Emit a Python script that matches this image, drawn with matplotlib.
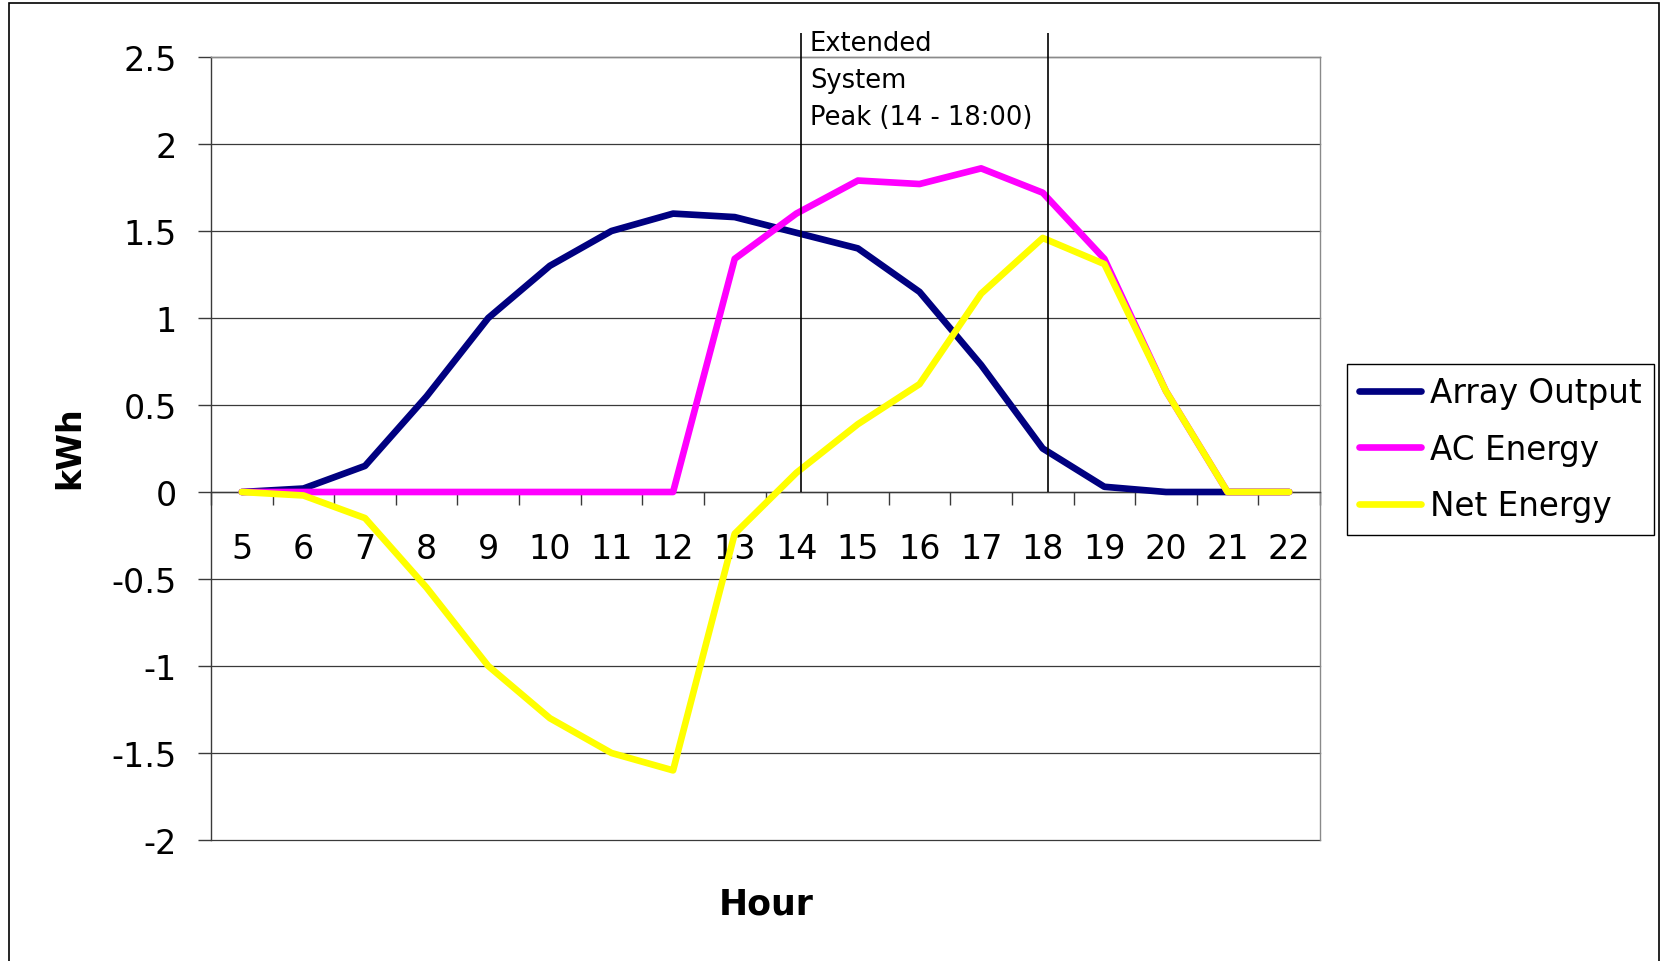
# import libs
import matplotlib
matplotlib.use("Agg")
import matplotlib.pyplot as plt
from matplotlib.patches import Rectangle
from matplotlib.ticker import FixedLocator, FuncFormatter

plt.rcParams['font.family'] = ['DejaVu Sans']
plt.rcParams['axes.unicode_minus'] = False

# data
hours = [5, 6, 7, 8, 9, 10, 11, 12, 13, 14, 15, 16, 17, 18, 19, 20, 21, 22]
array_output = [0, 0.02, 0.15, 0.55, 1.0, 1.3, 1.5, 1.6, 1.58, 1.49, 1.4, 1.15, 0.73, 0.25, 0.03, 0, 0, 0]
ac_energy = [0, 0, 0, 0, 0, 0, 0, 0, 1.34, 1.6, 1.79, 1.77, 1.86, 1.72, 1.34, 0.58, 0, 0]
net_energy = [0, -0.02, -0.15, -0.55, -1.0, -1.3, -1.5, -1.6, -0.24, 0.11, 0.39, 0.62, 1.14, 1.46, 1.31, 0.58, 0, 0]
peak_hours = [14, 18]
y_ticks = [-2, -1.5, -1, -0.5, 0, 0.5, 1, 1.5, 2, 2.5]

W, H = 1666, 962
fig = plt.figure(figsize=(W / 100, H / 100), dpi=100)

# outer frame of the chart
fig.patches.append(Rectangle((9 / W, -0.05), 1650 / W, 1 - 4 / H + 0.05,
                             transform=fig.transFigure, fill=False,
                             edgecolor='black', linewidth=1.2))

ax = fig.add_axes([211 / W, 121 / H, 1109 / W, 783 / H])
x = list(range(len(hours)))

# series
ax.plot(x, array_output, color='#000080', lw=4.8, solid_capstyle='round', label='Array Output', zorder=3)
ax.plot(x, ac_energy, color='#FF00FF', lw=4.8, solid_capstyle='round', label='AC Energy', zorder=4)
ax.plot(x, net_energy, color='#FFFF00', lw=4.8, solid_capstyle='round', label='Net Energy', zorder=5)

ax.set_xlim(-0.5, len(hours) - 0.5)
ax.set_ylim(-2, 2.5)

# grid
for yv in y_ticks:
    ax.axhline(yv, color='#3a3a3a', lw=0.9, zorder=1, clip_on=False)

# peak window lines (drawn a touch right of the category centre, as in the original)
for ph in peak_hours:
    i = hours.index(ph)
    ax.vlines(i + 0.08, 0, 2.64, color='black', lw=1.2, clip_on=False, zorder=6)

# spines
ax.spines['bottom'].set_position(('data', 0))
ax.spines['bottom'].set_color('#3a3a3a')
ax.spines['left'].set_color('#3a3a3a')
ax.spines['top'].set_color('#8a8a8a')
ax.spines['right'].set_color('#8a8a8a')
for s in ax.spines.values():
    s.set_linewidth(1.0)

# ticks
ax.set_yticks(y_ticks)
ax.yaxis.set_major_formatter(FuncFormatter(lambda v, p: '%g' % v))
ax.tick_params(axis='y', direction='out', length=9.5, width=1, color='#3a3a3a',
               labelsize=24, pad=15)
ax.set_xticks(x)
ax.set_xticklabels([str(h) for h in hours])
ax.xaxis.set_minor_locator(FixedLocator([i - 0.5 for i in range(len(hours) + 1)]))
ax.tick_params(axis='x', which='major', length=0, labelsize=24, pad=29)
ax.tick_params(axis='x', which='minor', direction='out', length=9, width=1, color='#3a3a3a')

# annotation
fig.text(810 / W, 1 - 31 / H, 'Extended\nSystem\nPeak (14 - 18:00)', fontsize=18.5,
         ha='left', va='top', linespacing=1.55)

# axis titles
fig.text(70 / W, 1 - 448 / H, 'kWh', fontsize=24, fontweight='bold', rotation=90,
         ha='center', va='center')
fig.text(766 / W, 1 - 905 / H, 'Hour', fontsize=25, fontweight='bold',
         ha='center', va='center')

# legend
leg = fig.legend(loc='upper left', bbox_to_anchor=(1347 / W, 1 - 365 / H),
                 bbox_transform=fig.transFigure, borderaxespad=0, fontsize=23.5,
                 handlelength=1.9, handletextpad=0.25, labelspacing=0.72,
                 borderpad=0.38, fancybox=False, framealpha=1)
leg.get_frame().set_edgecolor('black')
leg.get_frame().set_linewidth(1.0)

fig.savefig('out.png', dpi=100)
